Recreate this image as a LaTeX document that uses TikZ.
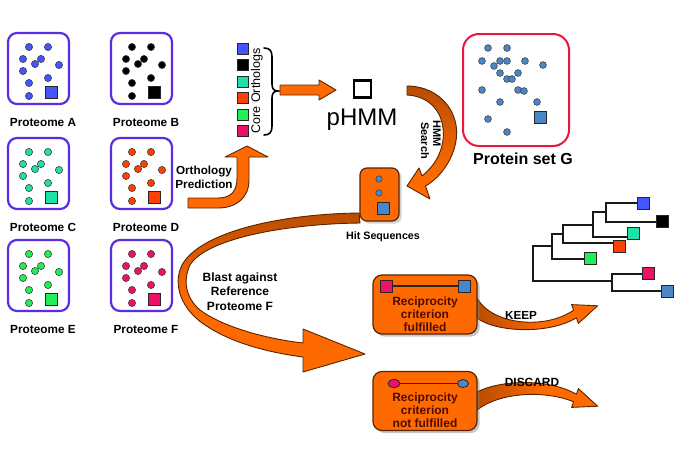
\documentclass[tikz,border=0pt]{standalone}
\usepackage{fontspec}
\setmainfont{Liberation Sans}
\usetikzlibrary{shadows,shapes.geometric}
\definecolor{orangeF}{HTML}{FF6A00}
\definecolor{brownR}{HTML}{B84C00}
\definecolor{darkedge}{HTML}{5A2400}
\definecolor{boxpurple}{HTML}{5A2DE0}
\definecolor{redG}{HTML}{E8183C}
\definecolor{steel}{HTML}{4A86C8}
\definecolor{maroon}{HTML}{4D0C00}
\definecolor{pA}{HTML}{4455FF}
\definecolor{pB}{HTML}{000000}
\definecolor{pC}{HTML}{1EE0A8}
\definecolor{pD}{HTML}{FF4000}
\definecolor{pE}{HTML}{22EE55}
\definecolor{pF}{HTML}{EE1166}
\tikzset{
 pbox/.style={draw=boxpurple, line width=2.2pt, rounded corners=9pt, minimum width=61pt, minimum height=71pt, inner sep=0pt, fill=white},
 sqr/.style={draw=black!85, line width=0.8pt, minimum size=12pt, inner sep=0pt},
 plabel/.style={font=\bfseries\fontsize{11.8}{14}\selectfont, inner sep=0pt},
 dotc/.style={draw=black!75, line width=0.6pt},
 ribbon/.style={fill=orangeF, draw=darkedge, line width=0.9pt, line join=round},
 redge/.style={draw=darkedge, line width=0.9pt, line join=round},
 obox/.style={fill=orangeF, draw=darkedge, line width=1.2pt, rounded corners=9pt, inner sep=0pt},
 rtext/.style={text=maroon, font=\bfseries\fontsize{12}{13}\selectfont, align=center, inner sep=0pt},
 blabel/.style={font=\bfseries\fontsize{11.7}{14}\selectfont, align=center, inner sep=0pt},
 tree/.style={draw=black!90, line width=2pt},
}
\newcommand{\protbox}[5]{%
 \node[pbox] (#1) at (#2+31.5,#3+36.5) {};
 \foreach \dx/\dy in {22/15,41/15,16/27,34/27,28/32,52/33,16/39,22/51,41/46,22/64}{
   \fill[dotc, fill=#4] (#2+\dx,#3+\dy) circle[radius=3.6pt];}
 \node[sqr, fill=#4] (#1sq) at (#2+44,#3+60) {};
 \node[plabel] (#1lab) at (#2+36,#3+90) {#5};
}
\def\hmmpath{(407,86) .. controls (432,86) and (452,102) .. (456,125) .. controls (460,148) and (445,175) .. (425.5,186) -- (430,199) -- (407,186) -- (419,168) -- (422,176) .. controls (438,163) and (445,146) .. (443,128) .. controls (441,110) and (428,96) .. (407,95) -- cycle}
\def\blastpath{(359,213) .. controls (280,214) and (200,232) .. (182,265) .. controls (172,285) and (182,310) .. (205,325) .. controls (230,342) and (265,352) .. (303,357) -- (303,372) -- (365,354) -- (303,329) -- (303,343) .. controls (260,338) and (220,325) .. (200,310) .. controls (185,297) and (183,280) .. (190,265) .. controls (205,240) and (280,224) .. (360,223) -- cycle}
\def\keeppath{(477,298) .. controls (492,325) and (545,330) .. (573.6,310.2) -- (571.6,304.6) -- (597.6,305.8) -- (578.4,323.4) -- (576.4,317.8) .. controls (548,335) and (495,332) .. (477,318) -- cycle}
\def\discpath{(477,392) .. controls (500,380) and (548,378) .. (576.4,394.2) -- (578.4,388.6) -- (597.6,406.2) -- (571.6,407.4) -- (573.6,401.8) .. controls (545,390) and (500,392) .. (477,410) -- cycle}
\begin{document}
\begin{tikzpicture}[x=1pt,y=-1pt]
\useasboundingbox (0,0) rectangle (688,450);

% proteomes
\protbox{pa}{7}{32}{pA}{Proteome A}
\protbox{pb}{110}{32}{pB}{Proteome B}
\protbox{pc}{7}{137}{pC}{Proteome C}
\protbox{pd}{110}{137}{pD}{Proteome D}
\protbox{pe}{7}{239}{pE}{Proteome E}
\protbox{pf}{110}{239}{pF}{Proteome F}

% orthology prediction arrow
\draw[ribbon] (188,198) -- (218,198) .. controls (232,198) and (237,190) .. (237,178) -- (237,157) -- (225,157) -- (247,146) -- (268,157) -- (249,157) -- (249,180) .. controls (249,198) and (236,208) .. (218,208) -- (188,208) -- cycle;
\node[blabel] (orth) at (204,177) {Orthology\\Prediction};

% core orthologs
\node[sqr, fill=pA, minimum size=11pt] (c1) at (242.5,49) {};
\node[sqr, fill=pB, minimum size=11pt] (c2) at (242.5,65) {};
\node[sqr, fill=pC, minimum size=11pt] (c3) at (242.5,81.5) {};
\node[sqr, fill=pD, minimum size=11pt] (c4) at (242.5,98) {};
\node[sqr, fill=pE, minimum size=11pt] (c5) at (242.5,114.5) {};
\node[sqr, fill=pF, minimum size=11pt] (c6) at (242.5,131) {};
\node[rotate=90, font=\fontsize{12.5}{14}\selectfont, inner sep=0pt] (core) at (257,91) {Core Orthologs};
\draw[line width=1.6pt, line cap=round] (264,48) .. controls (270,48) and (272,51) .. (272,57) -- (272,84) .. controls (272,89) and (274,91) .. (278,91) .. controls (274,91) and (272,93) .. (272,98) -- (272,126) .. controls (272,132) and (270,135) .. (264,135);

% arrow to pHMM
\draw[ribbon] (280,85) -- (319,85) -- (319,80) -- (336,90) -- (319,100) -- (319,95) -- (280,95) -- cycle;
\node[draw=black, line width=2.2pt, minimum size=17pt, inner sep=0pt] (hmmsq) at (362.5,89) {};
\node[anchor=base, font=\fontsize{24}{26}\selectfont, inner sep=0pt] (phmm) at (362,125) {pHMM};

% protein set G
\node[draw=redG, line width=2pt, rounded corners=16pt, minimum width=106pt, minimum height=112pt, inner sep=0pt] (G) at (516,90) {};
\foreach \px/\py in {488/48,507/48,482/61,500/61,507/61,525/61,494/66,543/65,500/73,518/73,507/79,512/79,482/90,518/90,524/91,500/102,537/102,488/119,507/132}{
  \fill[dotc, fill=steel] (\px,\py) circle[radius=3.4pt];}
\node[sqr, fill=steel] (Gsq) at (540,117.5) {};
\node[font=\bfseries\fontsize{16}{18}\selectfont, inner sep=0pt] (Glab) at (523,159) {Protein set G};

% HMM search arrow
\fill[orangeF] \hmmpath;
\begin{scope}
  \clip \hmmpath;
  \shade[top color=brownR, bottom color=orangeF] (400,84) rectangle (462,175);
\end{scope}
\draw[redge] \hmmpath;
\node[rotate=-90, anchor=west, font=\bfseries\fontsize{11}{12}\selectfont, inner sep=0pt] (hs1) at (437,120) {HMM};
\node[rotate=-90, anchor=west, font=\bfseries\fontsize{11}{12}\selectfont, inner sep=0pt] (hs2) at (425,122) {Search};

% blast arrow
\fill[orangeF] \blastpath;
\begin{scope}
  \clip \blastpath;
  \shade[top color=brownR, bottom color=orangeF] (170,210) rectangle (366,300);
\end{scope}
\draw[redge] \blastpath;
\node[blabel, font=\bfseries\fontsize{12}{14.5}\selectfont] (blast) at (240,291.5) {Blast against\\Reference\\Proteome F};

% hit sequences
\node[obox, rounded corners=7pt, minimum width=39pt, minimum height=53pt, drop shadow={opacity=0.35}] (hit) at (379.5,194.5) {};
\fill[dotc, fill=steel] (379,179) circle[radius=3.2pt];
\fill[dotc, fill=steel] (379,193) circle[radius=3.2pt];
\node[sqr, fill=steel] (hitsq) at (383,208) {};
\node[font=\bfseries\fontsize{10.7}{12}\selectfont, inner sep=0pt] (hitlab) at (383,237) {Hit Sequences};

% KEEP arrow
\fill[orangeF] \keeppath;
\begin{scope}
  \clip \keeppath;
  \shade[left color=brownR, right color=orangeF] (476,295) rectangle (545,335);
\end{scope}
\draw[redge] \keeppath;
\node[font=\bfseries\fontsize{11.7}{13}\selectfont, inner sep=0pt] (keep) at (521,315) {KEEP};

% DISCARD arrow
\fill[orangeF] \discpath;
\begin{scope}
  \clip \discpath;
  \shade[left color=brownR, right color=orangeF] (476,378) rectangle (545,412);
\end{scope}
\draw[redge] \discpath;
\node[font=\bfseries\fontsize{11.9}{13}\selectfont, inner sep=0pt] (discard) at (532,382) {DISCARD};

% reciprocity fulfilled
\node[obox, minimum width=104pt, minimum height=59pt, drop shadow={opacity=0.45}] (r1) at (425,304.5) {};
\node[sqr, fill=pF] (r1a) at (386,286) {};
\node[sqr, fill=steel] (r1b) at (464.5,286) {};
\draw[line width=1.5pt, draw=black!85] (r1a) -- (r1b);
\node[rtext] (r1t) at (425,314) {Reciprocity\\criterion\\fulfilled};

% reciprocity not fulfilled
\node[obox, minimum width=104pt, minimum height=59pt, drop shadow={opacity=0.45}] (r2) at (425,401) {};
\node[ellipse, draw=black!85, line width=0.8pt, fill=pF, minimum width=12pt, minimum height=8pt, inner sep=0pt] (r2a) at (394,383.5) {};
\node[ellipse, draw=black!85, line width=0.8pt, fill=steel, minimum width=11pt, minimum height=8pt, inner sep=0pt] (r2b) at (463,383.5) {};
\draw[line width=1.5pt, draw=black!85] (r2a) -- (r2b);
\node[rtext] (r2t) at (425,410) {Reciprocity\\criterion\\not fulfilled};

% tree
\node[sqr, fill=pA] (l1) at (643,203) {};
\node[sqr, fill=pB] (l2) at (662,221) {};
\node[sqr, fill=pC] (l3) at (633,233) {};
\node[sqr, fill=pD] (l4) at (619,246) {};
\node[sqr, fill=pE] (l5) at (590,258) {};
\node[sqr, fill=pF] (l6) at (648,273) {};
\node[sqr, fill=steel] (l7) at (667,291) {};
\draw[tree] (637,203) -- (606,203) -- (606,222) -- (656,222);
\draw[tree] (606,212) -- (593,212) -- (593,237) -- (627,237);
\draw[tree] (593,225) -- (563,225) -- (563,243) -- (613,243);
\draw[tree] (563,234) -- (552,234) -- (552,259) -- (584,259);
\draw[tree] (552,246) -- (533,246) -- (533,281) -- (612,281);
\draw[tree] (642,274) -- (612,274) -- (612,291) -- (661,291);
\end{tikzpicture}
\end{document}
